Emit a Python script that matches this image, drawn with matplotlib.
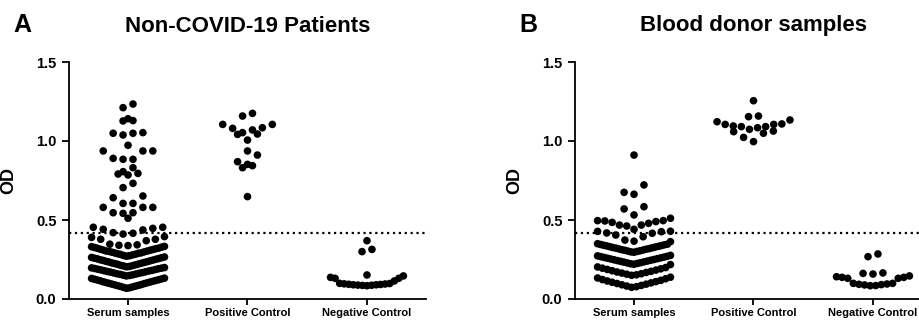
import numpy as np
import matplotlib
matplotlib.use("Agg")
import matplotlib.pyplot as plt

plt.rcParams['font.family'] = ['Liberation Sans', 'DejaVu Sans']
plt.rcParams['font.weight'] = 'bold'

categories = ["Serum samples", "Positive Control", "Negative Control"]
cutoff = 0.42

# panel A - Non-COVID-19 patients
serum_a = [1.234, 1.211, 1.141, 1.127, 1.129, 1.049, 1.053, 1.038, 1.049,
           0.937, 0.937, 0.973, 0.937, 0.884, 0.884, 0.890, 0.831, 0.795,
           0.806, 0.785, 0.791, 0.732, 0.705, 0.641, 0.652, 0.605, 0.605,
           0.580, 0.580, 0.580, 0.546, 0.542, 0.546, 0.511,
           0.454, 0.447, 0.441, 0.416, 0.411, 0.420, 0.437, 0.454,
           0.395, 0.378, 0.369, 0.340, 0.338, 0.343, 0.347, 0.378, 0.390,
           0.271, 0.274, 0.275, 0.279, 0.282, 0.283, 0.286, 0.289, 0.291,
           0.292, 0.296, 0.298, 0.301, 0.303, 0.304, 0.308, 0.310, 0.313,
           0.315, 0.318, 0.321, 0.322, 0.326, 0.328, 0.331, 0.333,
           0.204, 0.206, 0.209, 0.211, 0.213, 0.216, 0.219, 0.221, 0.224,
           0.226, 0.228, 0.231, 0.234, 0.236, 0.238, 0.241, 0.244, 0.246,
           0.248, 0.251, 0.254, 0.256, 0.258, 0.261, 0.263, 0.266,
           0.146, 0.149, 0.151, 0.153, 0.156, 0.158, 0.160, 0.163, 0.165,
           0.167, 0.170, 0.172, 0.174, 0.177, 0.179, 0.181, 0.184, 0.186,
           0.188, 0.191, 0.193, 0.195, 0.197, 0.199,
           0.068, 0.071, 0.073, 0.076, 0.079, 0.081, 0.084, 0.086, 0.089,
           0.091, 0.094, 0.097, 0.099, 0.102, 0.104, 0.107, 0.109, 0.112,
           0.115, 0.117, 0.120, 0.122, 0.125, 0.127, 0.130, 0.132]
positive_a = [1.175, 1.158, 1.105, 1.105, 1.080, 1.084, 1.053, 1.042, 1.044,
              1.070, 1.006, 0.911, 0.937, 0.869, 0.844, 0.831, 0.852, 0.648]
negative_a = [0.369, 0.300, 0.314, 0.152,
              0.084, 0.086, 0.087, 0.088, 0.090, 0.090, 0.092, 0.093, 0.095,
              0.096, 0.098, 0.099, 0.114, 0.131, 0.131, 0.137, 0.146]

# panel B - blood donors
serum_b = [0.911, 0.722, 0.663, 0.675, 0.570, 0.584, 0.511, 0.532,
           0.496, 0.490, 0.479, 0.468, 0.462, 0.441, 0.468, 0.485, 0.494, 0.496,
           0.429, 0.426, 0.416, 0.373, 0.363, 0.366, 0.394, 0.405, 0.418, 0.428,
           0.296, 0.298, 0.301, 0.303, 0.305, 0.308, 0.310, 0.312, 0.315,
           0.317, 0.319, 0.322, 0.324, 0.326, 0.329, 0.331, 0.333, 0.336,
           0.338, 0.340, 0.343, 0.345, 0.347, 0.350,
           0.218, 0.220, 0.223, 0.225, 0.228, 0.230, 0.233, 0.235, 0.238,
           0.240, 0.243, 0.245, 0.248, 0.250, 0.253, 0.255, 0.258, 0.260,
           0.263, 0.265, 0.268, 0.270, 0.273, 0.276,
           0.150, 0.153, 0.157, 0.160, 0.164, 0.168, 0.171, 0.175, 0.179,
           0.183, 0.187, 0.191, 0.195, 0.199, 0.203,
           0.074, 0.078, 0.082, 0.086, 0.090, 0.094, 0.098, 0.102, 0.106,
           0.110, 0.114, 0.118, 0.123, 0.128, 0.133, 0.138]
positive_b = [1.255, 1.154, 1.158, 1.133, 1.105, 1.108, 1.095, 1.084, 1.074,
              1.091, 1.091, 1.105, 1.122, 1.063, 1.049, 0.996, 1.023, 1.059]
negative_b = [0.268, 0.285, 0.158, 0.162, 0.165,
              0.146, 0.137, 0.131, 0.099, 0.095, 0.091, 0.084, 0.085, 0.089,
              0.093, 0.099, 0.131, 0.137, 0.141]

panels = [
    ("A", "Non-COVID-19 Patients", [serum_a, positive_a, negative_a], 0.067),
    ("B", "Blood donor samples", [serum_b, positive_b, negative_b], 0.073),
]


def swarm(values, h, step=0.083, wmax=0.61):
    # graphpad-like: bin on y, lowest value in the middle, spread outwards
    v = np.sort(np.asarray(values, dtype=float))
    bins = np.floor((v - v.min()) / h + 1e-9).astype(int)
    xs = np.zeros(len(v))
    for b in np.unique(bins):
        idx = np.where(bins == b)[0]
        n = len(idx)
        sp = step if n < 2 else min(step, wmax / (n - 1))
        slots = np.arange(n) - (n - 1) / 2.0
        order = sorted(slots, key=lambda s: (abs(s), s))
        for i, s in zip(idx, order):
            xs[i] = s * sp
    return xs, v


fig = plt.figure(figsize=(9.2, 3.2), dpi=100)
lefts = [69 / 920, 575 / 920]

for (letter, title, groups, h), left in zip(panels, lefts):
    ax = fig.add_axes([left, 1 - 299 / 320, 357 / 920, 237 / 320])
    for k, vals in enumerate(groups):
        dx, yy = swarm(vals, h)
        ax.scatter(k + dx, yy, s=30, color='black', edgecolors='none', zorder=3)
    ax.axhline(cutoff, color='black', linestyle=':', linewidth=1.6, zorder=2)
    ax.set_xlim(-0.494, 2.494)
    ax.set_ylim(0, 1.5)
    ax.set_yticks([0.0, 0.5, 1.0, 1.5])
    ax.set_yticklabels(["0.0", "0.5", "1.0", "1.5"], fontsize=10.5, fontweight='bold')
    ax.set_xticks(range(len(categories)))
    ax.set_xticklabels(categories, fontsize=8, fontweight='bold')
    ax.spines['top'].set_visible(False)
    ax.spines['right'].set_visible(False)
    ax.spines['left'].set_linewidth(1.3)
    ax.spines['bottom'].set_linewidth(1.3)
    ax.tick_params(axis='y', length=5, width=1.3, pad=4)
    ax.tick_params(axis='x', length=4.5, width=1.3, pad=2)
    ax.set_ylabel("OD", fontsize=13, fontweight='bold')
    ax.yaxis.set_label_coords(-0.144, 0.5)

    cx = left + 357 / 920 / 2
    fig.text(cx, 1 - 26 / 320, title, ha='center', va='center',
             fontsize=16, fontweight='bold')
    fig.text(left - 56 / 920, 1 - 25 / 320, letter, ha='left', va='center',
             fontsize=18, fontweight='bold')

fig.savefig("out.png", dpi=100)
